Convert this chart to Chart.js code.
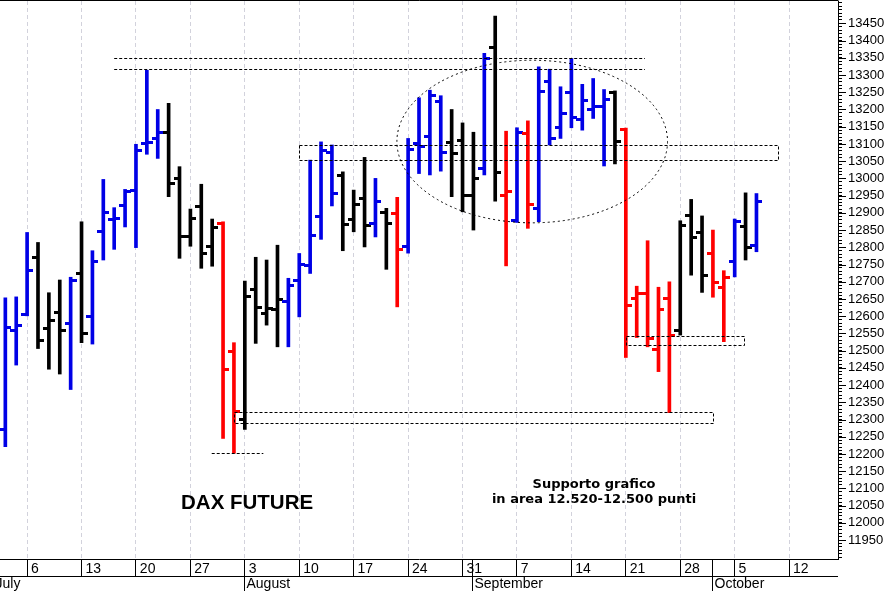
<!DOCTYPE html>
<html>
<head>
<meta charset="utf-8">
<script src="https://cdn.jsdelivr.net/npm/chart.js@4.4.1/dist/chart.umd.min.js"></script>
<style>
  html, body { margin: 0; padding: 0; background: #fff; }
</style>
</head>
<body>
<canvas id="dax" width="887" height="591"></canvas>
<script>
// DAX future, daily bars Jul - Oct 2020
const dates = [
  '2020-07-02','2020-07-03',
  '2020-07-06','2020-07-07','2020-07-08','2020-07-09','2020-07-10',
  '2020-07-13','2020-07-14','2020-07-15','2020-07-16','2020-07-17',
  '2020-07-20','2020-07-21','2020-07-22','2020-07-23','2020-07-24',
  '2020-07-27','2020-07-28','2020-07-29','2020-07-30','2020-07-31',
  '2020-08-03','2020-08-04','2020-08-05','2020-08-06','2020-08-07',
  '2020-08-10','2020-08-11','2020-08-12','2020-08-13','2020-08-14',
  '2020-08-17','2020-08-18','2020-08-19','2020-08-20','2020-08-21',
  '2020-08-24','2020-08-25','2020-08-26','2020-08-27','2020-08-28',
  '2020-08-31','2020-09-01','2020-09-02','2020-09-03','2020-09-04',
  '2020-09-07','2020-09-08','2020-09-09','2020-09-10','2020-09-11',
  '2020-09-14','2020-09-15','2020-09-16','2020-09-17','2020-09-18',
  '2020-09-21','2020-09-22','2020-09-23','2020-09-24','2020-09-25',
  '2020-09-28','2020-09-29','2020-09-30','2020-10-01','2020-10-02',
  '2020-10-05','2020-10-06','2020-10-07'
];
const opens = [
  12272, 12557,
  12606, 12769, 12563, 12612, 12580,
  12725, 12600, 12847, 12880, 12922,
  12966, 13100, 13117, 13134, 13001,
  12830, 12917, 12801, 12870, 12496,
  12301, 12676, 12609, 12618, 12644,
  12705, 12748, 12888, 13076, 13007,
  12882, 12943, 12870, 12902, 12899,
  12803, 13102, 13123, 13224, 13105,
  13111, 12949, 13030, 13381, 12949,
  12879, 13131, 12914, 13280, 13149,
  13250, 13172, 13201, 13210, 13250,
  13143, 12650, 12667, 12502, 12650,
  12557, 12891, 12844, 12783, 12682,
  12760, 12859, 12806
];
const highs = [
  12653, 12656,
  12843, 12814, 12668, 12705, 12713,
  12874, 12790, 12997, 12915, 12968,
  13099, 13314, 13200, 13218, 13034,
  12911, 12983, 12882, 12874, 12523,
  12702, 12771, 12763, 12806, 12710,
  12782, 13053, 13106, 13097, 13019,
  12966, 13061, 13000, 12913, 12945,
  13116, 13234, 13256, 13240, 13200,
  13161, 13134, 13363, 13471, 13137,
  13147, 13167, 13324, 13317, 13266,
  13348, 13273, 13290, 13258, 13254,
  13146, 12687, 12819, 12684, 12700,
  12877, 12939, 12891, 12850, 12732,
  12882, 12958, 12956
];
const lows = [
  12221, 12458,
  12601, 12506, 12446, 12432, 12387,
  12523, 12519, 12763, 12794, 12859,
  12799, 13070, 13058, 12947, 12768,
  12803, 12739, 12745, 12245, 12202,
  12271, 12521, 12574, 12511, 12511,
  12598, 12724, 12823, 12920, 12790,
  12845, 12801, 12830, 12736, 12627,
  12783, 13014, 13010, 13021, 12947,
  12903, 12850, 13010, 12934, 12746,
  12872, 12855, 12874, 13097, 13116,
  13147, 13140, 13174, 13036, 13042,
  12480, 12538, 12511, 12439, 12320,
  12545, 12719, 12669, 12655, 12526,
  12714, 12763, 12787
];
const closes = [
  12568, 12574,
  12734, 12528, 12586, 12557, 12705,
  12551, 12760, 12902, 12885, 12963,
  13082, 13105, 13134, 12986, 12830,
  12885, 12783, 12856, 12444, 12322,
  12658, 12626, 12623, 12647, 12690,
  12751, 12833, 13082, 12957, 12867,
  12925, 12862, 12934, 12870, 12795,
  13085, 13094, 13242, 13076, 13071,
  12949, 13001, 13349, 13018, 12963,
  13134, 12925, 13253, 13117, 13187,
  13178, 13227, 13210, 13230, 13108,
  12632, 12667, 12536, 12618, 12545,
  12862, 12827, 12719, 12699, 12711,
  12876, 12798, 12934
];
// b = blue, k = black, r = red
const barColors = [
  'b','b',
  'b','k','k','k','b',
  'k','b','b','b','b',
  'b','b','b','k','k',
  'k','k','k','r','r',
  'k','k','k','k','b',
  'b','b','b','b','k',
  'k','k','b','k','r',
  'b','b','b','b','k',
  'k','k','b','k','r',
  'b','r','b','b','b',
  'b','b','b','b','k',
  'r','r','r','r','r',
  'k','k','k','r','r',
  'b','k','b'
];

const weekStarts = ['2020-07-06','2020-07-13','2020-07-20','2020-07-27','2020-08-03','2020-08-10',
  '2020-08-17','2020-08-24','2020-08-31','2020-09-07','2020-09-14','2020-09-21','2020-09-28',
  '2020-10-05','2020-10-12'];
const dayLabels = ['6','13','20','27','3','10','17','24','31','7','14','21','28','5','12'];
const months = ['July','August','September','October'];
const monthStarts = ['2020-07-01','2020-08-03','2020-09-01','2020-10-01'];
const yLabelMin = 11950, yLabelMax = 13450;

const palette = { b: '#0000e6', k: '#000000', r: '#ff0000' };
const FONT = '"Liberation Sans", Arial, sans-serif';
const NARROW = '"Liberation Sans Narrow", "Liberation Sans", Arial, sans-serif';

// trading day index, 0 = Monday 6 July
function tradeIdx(s) {
  const base = Date.UTC(2020, 6, 6);
  const p = s.split('-');
  const d = Math.round((Date.UTC(+p[0], +p[1] - 1, +p[2]) - base) / 86400000);
  const w = Math.floor(d / 7);
  return w * 5 + Math.min(d - w * 7, 5);
}
const xs = dates.map(tradeIdx);
const weekIdx = weekStarts.map(tradeIdx);

function tickImg(color, side) {
  const c = document.createElement('canvas');
  c.width = 12; c.height = 3;
  const g = c.getContext('2d');
  g.fillStyle = color;
  if (side === 'left') g.fillRect(0, 0, 6, 3); else g.fillRect(6, 0, 6, 3);
  return c;
}
const leftTicks = {}, rightTicks = {};
for (const k in palette) { leftTicks[k] = tickImg(palette[k], 'left'); rightTicks[k] = tickImg(palette[k], 'right'); }

const annotations = {
  id: 'annotations',
  afterDatasetsDraw(chart) {
    const { ctx, chartArea: a } = chart;
    const x = chart.scales.x, y = chart.scales.y;
    const px = v => x.getPixelForValue(v), py = v => y.getPixelForValue(v);
    ctx.save();
    ctx.beginPath();
    ctx.rect(a.left, a.top, a.right - a.left, a.bottom - a.top);
    ctx.clip();
    ctx.strokeStyle = '#000';
    ctx.lineWidth = 1;
    ctx.setLineDash([3, 2]);
    const hline = (x1, x2, v) => {
      const yy = Math.round(py(v)) + 0.5;
      ctx.beginPath(); ctx.moveTo(px(x1), yy); ctx.lineTo(px(x2), yy); ctx.stroke();
    };
    const box = (x1, x2, v1, v2) => {
      const y1 = Math.round(py(v1)) + 0.5, y2 = Math.round(py(v2)) + 0.5;
      const l = Math.round(px(x1)) + 0.5, r = Math.round(px(x2)) + 0.5;
      ctx.strokeRect(l, y1, r - l, y2 - y1);
    };
    hline(8, 56.76, 13349);
    hline(8, 56.76, 13317);
    box(25, 68.95, 13097, 13053);
    box(55, 65.88, 12543, 12515);
    box(19, 62.98, 12322, 12290);
    hline(16.96, 21.7, 12204);
    // ellipse round the September top
    ctx.setLineDash([2, 3]);
    const cx = px(46.4), cy = py(13107);
    ctx.beginPath();
    ctx.ellipse(cx, cy, px(46.4 + 12.43) - cx, cy - py(13107 + 236), 0, 0, Math.PI * 2);
    ctx.stroke();
    ctx.setLineDash([]);
    ctx.fillStyle = '#000';
    ctx.textBaseline = 'middle';
    ctx.textAlign = 'left';
    ctx.font = 'bold 20.5px ' + FONT;
    ctx.fillText('DAX FUTURE', px(14.14), py(12057));
    ctx.textAlign = 'center';
    ctx.font = 'bold 13px "DejaVu Sans", sans-serif';
    ctx.fillText('Supporto grafico', px(52.08), py(12110));
    ctx.fillText('in area 12.520-12.500 punti', px(52.08), py(12066));
    ctx.restore();
  },
  afterDraw(chart) {
    const { ctx, chartArea: a } = chart;
    const x = chart.scales.x, y = chart.scales.y;
    const H = chart.height;
    ctx.save();
    ctx.strokeStyle = '#000';
    ctx.lineWidth = 1;
    // top frame
    ctx.beginPath(); ctx.moveTo(0, 0.5); ctx.lineTo(a.right + 0.5, 0.5); ctx.stroke();
    // major ticks on the price axis
    for (let v = yLabelMin; v <= yLabelMax; v += 50) {
      const yy = Math.round(y.getPixelForValue(v)) + 0.5;
      ctx.beginPath(); ctx.moveTo(a.right, yy); ctx.lineTo(a.right + 8, yy); ctx.stroke();
    }
    // month row
    const rowY = a.bottom + 17.5;
    ctx.beginPath(); ctx.moveTo(0, rowY); ctx.lineTo(a.right, rowY); ctx.stroke();
    ctx.font = '14px ' + NARROW;
    ctx.fillStyle = '#000';
    ctx.textBaseline = 'middle';
    ctx.textAlign = 'left';
    monthStarts.forEach((m, i) => {
      const mx = Math.round(x.getPixelForValue(tradeIdx(m) - 0.1)) + 0.5;
      ctx.beginPath(); ctx.moveTo(mx, a.bottom); ctx.lineTo(mx, H); ctx.stroke();
      ctx.fillText(months[i], mx + 2, rowY + 7.5);
    });
    ctx.restore();
  }
};

const ctx = document.getElementById('dax').getContext('2d');
new Chart(ctx, {
  type: 'bar',
  data: {
    datasets: [
      {
        type: 'line',
        label: 'open',
        data: xs.map((v, i) => ({ x: v, y: opens[i] })),
        showLine: false,
        pointRadius: 3,
        pointStyle: c => leftTicks[barColors[c.dataIndex]]
      },
      {
        type: 'line',
        label: 'close',
        data: xs.map((v, i) => ({ x: v, y: closes[i] })),
        showLine: false,
        pointRadius: 3,
        pointStyle: c => rightTicks[barColors[c.dataIndex]]
      },
      {
        type: 'bar',
        label: 'range',
        data: xs.map((v, i) => ({ x: v, y: [lows[i], highs[i]] })),
        backgroundColor: barColors.map(k => palette[k]),
        borderWidth: 0,
        barThickness: 3,
        grouped: false
      }
    ]
  },
  options: {
    responsive: false,
    devicePixelRatio: 1,
    animation: false,
    layout: { autoPadding: false, padding: { top: 1, left: 0, right: 0, bottom: 0 } },
    plugins: { legend: { display: false }, tooltip: { enabled: false } },
    scales: {
      x: {
        type: 'linear',
        position: 'bottom',
        min: -2.49,
        max: 74.49,
        offset: false,
        afterBuildTicks: s => { s.ticks = weekIdx.map(v => ({ value: v })); },
        ticks: {
          autoSkip: false,
          maxRotation: 0,
          align: 'start',
          padding: -15,
          color: '#000',
          font: { family: NARROW, size: 14 },
          callback: (v, i) => ' ' + dayLabels[i]
        },
        grid: {
          offset: false,
          color: '#d2d2dc',
          lineWidth: 1,
          drawTicks: true,
          tickLength: 17,
          tickColor: '#000',
          tickWidth: 1,
          tickBorderDash: []
        },
        border: { color: '#000', width: 1, dash: [4, 3] },
        afterFit: s => { s.height = 32; s.paddingLeft = 0; s.paddingRight = 0; }
      },
      y: {
        type: 'linear',
        position: 'right',
        min: 11895,
        max: 13515,
        afterBuildTicks: s => {
          const t = [];
          for (let v = 11900; v <= 13510; v += 10) t.push({ value: v });
          s.ticks = t;
        },
        ticks: {
          autoSkip: false,
          padding: 6,
          color: '#000',
          font: { family: FONT, size: 13 },
          callback: v => (v % 50 === 0 && v >= yLabelMin && v <= yLabelMax) ? String(v) : ''
        },
        grid: { drawOnChartArea: false, drawTicks: true, tickLength: 4, tickColor: '#000' },
        border: { color: '#000', width: 1 },
        afterFit: s => { s.width = 49; s.paddingTop = 0; s.paddingBottom = 0; }
      }
    }
  },
  plugins: [annotations]
});
</script>
</body>
</html>
